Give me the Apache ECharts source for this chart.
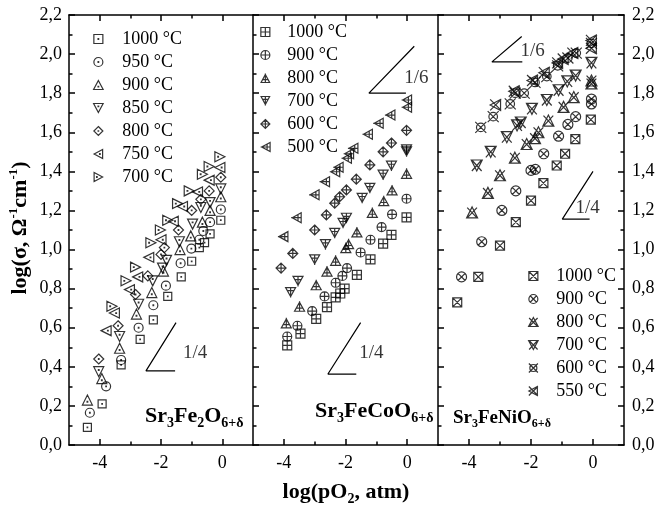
<!DOCTYPE html>
<html><head><meta charset="utf-8">
<script src="https://cdn.jsdelivr.net/npm/echarts@6/dist/echarts.min.js"></script>
<style>html,body{margin:0;padding:0;background:#fff}#c{width:669px;height:513px}</style>
</head><body><div id="c"></div>
<script>
// ---- Data: Sr3Fe2O6+δ (panel 1) ----
const fe2_1000 = [[-4.40,0.09],[-3.92,0.21],[-3.30,0.41],[-2.68,0.54],[-2.25,0.64],[-1.78,0.76],[-1.34,0.86],[-1.00,0.94],[-0.75,1.01],[-0.58,1.035],[-0.40,1.08],[-0.05,1.15]];
const fe2_950 = [[-4.32,0.165],[-3.79,0.30],[-3.30,0.435],[-2.73,0.60],[-2.25,0.715],[-1.84,0.815],[-1.36,0.93],[-1.01,1.005],[-0.75,1.05],[-0.62,1.095],[-0.40,1.14],[-0.05,1.205]];
const fe2_900 = [[-4.40,0.23],[-3.93,0.34],[-3.35,0.495],[-2.80,0.67],[-2.30,0.78],[-1.92,0.89],[-1.38,1.0],[-1.03,1.07],[-0.65,1.14],[-0.40,1.20],[-0.05,1.27]];
const fe2_850 = [[-4.03,0.375],[-3.35,0.555],[-2.73,0.72],[-2.27,0.84],[-1.95,0.905],[-1.82,0.945],[-1.40,1.04],[-0.97,1.13],[-0.70,1.215],[-0.40,1.24],[-0.05,1.31]];
const fe2_800 = [[-4.03,0.44],[-3.40,0.61],[-2.83,0.77],[-2.43,0.865],[-2.00,0.975],[-1.89,1.01],[-1.43,1.10],[-1.00,1.20],[-0.70,1.257],[-0.43,1.30],[-0.05,1.37]];
const fe2_750 = [[-3.79,0.585],[-3.52,0.675],[-3.03,0.795],[-2.76,0.86],[-2.40,0.96],[-2.00,1.05],[-1.60,1.145],[-1.30,1.22],[-0.81,1.295],[-0.43,1.355],[-0.08,1.42]];
const fe2_700 = [[-3.60,0.71],[-3.14,0.84],[-2.83,0.91],[-2.33,1.035],[-2.02,1.10],[-1.78,1.15],[-1.46,1.235],[-1.08,1.30],[-0.65,1.385],[-0.43,1.425],[-0.08,1.475]];
// ---- Data: Sr3FeCoO6+δ (panel 2) ----
const co_1000 = [[-3.89,0.51],[-3.46,0.57],[-2.95,0.645],[-2.60,0.705],[-2.32,0.755],[-2.17,0.775],[-2.03,0.80],[-1.63,0.87],[-1.19,0.95],[-0.78,1.03],[-0.51,1.075],[-0.02,1.165]];
const co_900 = [[-3.89,0.555],[-3.56,0.61],[-3.08,0.685],[-2.68,0.76],[-2.32,0.83],[-2.10,0.865],[-1.95,0.905],[-1.51,0.985],[-1.19,1.05],[-0.83,1.115],[-0.49,1.18],[-0.02,1.26]];
const co_800 = [[-3.92,0.625],[-3.49,0.71],[-2.95,0.82],[-2.60,0.89],[-2.32,0.945],[-1.99,1.01],[-1.90,1.03],[-1.63,1.09],[-1.13,1.19],[-0.76,1.25],[-0.49,1.305],[-0.02,1.39]];
const co_700 = [[-3.78,0.78],[-3.54,0.837],[-3.00,0.947],[-2.65,1.025],[-2.35,1.083],[-2.08,1.134],[-1.97,1.16],[-1.46,1.262],[-1.21,1.313],[-0.78,1.381],[-0.51,1.427],[-0.02,1.50],[-0.02,1.51]];
const co_600 = [[-4.09,0.905],[-3.71,0.98],[-3.00,1.10],[-2.62,1.177],[-2.35,1.237],[-2.19,1.27],[-1.97,1.305],[-1.65,1.36],[-1.21,1.433],[-0.78,1.50],[-0.51,1.545],[-0.02,1.61]];
const co_500 = [[-4.03,1.066],[-3.60,1.163],[-3.02,1.28],[-2.68,1.347],[-2.35,1.398],[-2.24,1.421],[-1.97,1.467],[-1.90,1.49],[-1.76,1.518],[-1.29,1.59],[-0.94,1.646],[-0.56,1.688],[-0.02,1.728],[-0.02,1.765]];
// ---- Data: Sr3FeNiO6+δ (panel 3) ----
const ni_1000 = [[-4.38,0.73],[-3.70,0.86],[-3.00,1.02],[-2.49,1.14],[-2.00,1.25],[-1.60,1.34],[-1.17,1.43],[-0.90,1.49],[-0.57,1.565],[-0.07,1.665]];
const ni_900 = [[-4.24,0.86],[-3.59,1.04],[-2.94,1.20],[-2.49,1.30],[-2.00,1.405],[-1.86,1.41],[-1.59,1.49],[-1.11,1.58],[-0.81,1.64],[-0.56,1.68],[-0.05,1.745],[-0.05,1.77]];
const ni_800 = [[-3.90,1.19],[-3.39,1.29],[-3.00,1.38],[-2.52,1.47],[-2.14,1.54],[-1.87,1.57],[-1.76,1.60],[-1.44,1.66],[-0.95,1.73],[-0.62,1.78],[-0.05,1.85],[-0.05,1.865]];
const ni_700 = [[-3.75,1.43],[-3.30,1.50],[-2.78,1.575],[-2.45,1.635],[-2.33,1.65],[-1.97,1.72],[-1.49,1.765],[-1.11,1.815],[-0.83,1.86],[-0.56,1.89],[-0.05,1.955]];
const ni_600 = [[-3.62,1.625],[-3.22,1.68],[-2.67,1.745],[-2.51,1.80],[-2.22,1.80],[-1.87,1.855],[-1.49,1.885],[-1.14,1.94],[-0.81,1.98],[-0.54,2.005],[-0.05,2.055]];
const ni_550 = [[-3.14,1.74],[-2.54,1.81],[-1.95,1.865],[-1.57,1.905],[-1.14,1.955],[-0.96,1.975],[-0.65,2.005],[-0.05,2.07],[-0.05,2.03]];
// ---- Axis ticks / labels ----
const xMajorTicks = [-4, -2, 0];
const xMinorTicks = [-3, -1];
const yTickInterval = 0.2;
// ---- Slope guides (annotation) ----
const guide1_q = [[-1.54,0.379],[-2.49,0.379],[-1.51,0.626]];
const guide2_q = [[-1.65,0.363],[-2.57,0.363],[-1.51,0.626]];
const guide2_s = [[-0.04,1.80],[-1.24,1.80],[0.23,2.04]];
const guide3_s = [[-2.28,1.96],[-3.26,1.96],[-2.30,2.09]];
const guide3_q = [[-0.11,1.156],[-0.99,1.156],[0.0,1.40]];
const guideLabels = [[0,-0.89,0.47,'1/4'],[1,-1.16,0.47,'1/4'],[1,0.30,1.88,'1/6'],[2,-1.95,2.015,'1/6'],[2,-0.17,1.215,'1/4']];

const F = 'Liberation Serif';
const dot = (x,y)=>'M'+(x-0.6)+' '+(y-0.6)+'L'+(x+0.6)+' '+(y-0.6)+'L'+(x+0.6)+' '+(y+0.6)+'L'+(x-0.6)+' '+(y+0.6)+'Z';
const SQ='M1 1L19 1L19 19L1 19Z', CI='M1 10A9 9 0 1 1 19 10A9 9 0 1 1 1 10Z',
 TU='M10 1L19 18L1 18Z', TD='M1 2L19 2L10 19Z', DI='M10 0L20 10L10 20L0 10Z',
 TL='M1 10L18 1L18 19Z', TR='M2 1L19 10L2 19Z';
const P = s => 'path://' + s;
const sym1 = {
 s1000: P(SQ+dot(10,10)), s950: P(CI+dot(10,10)), s900: P(TU+dot(10,12.5)), s850: P(TD+dot(10,7.5)),
 s800: P(DI+dot(10,10)), s750: P(TL+dot(12.5,10)), s700: P(TR+dot(7.5,10))
};
const sym2 = {
 s1000: P(SQ+'M10 1L10 19M1 10L19 10'), s900: P(CI+'M10 1L10 19M1 10L19 10'),
 s800: P(TU+'M10 -1L10 18M4 12L16 12'), s700: P(TD+'M10 2L10 21M4 8L16 8'),
 s600: P(DI+'M10 0L10 20M0 10L20 10'), s500: P(TL+'M-1 10L18 10M12 4L12 16')
};
const sym3 = {
 s1000: P(SQ+'M1 1L19 19M19 1L1 19'), s900: P('M3 10A7 7 0 1 1 17 10A7 7 0 1 1 3 10Z'+'M5 5L15 15M15 5L5 15'),
 s800: P(TU+'M2 2L18 18M18 2L2 18'), s700: P(TD+'M2 2L18 19M18 2L2 19'),
 s600: P('M3 10A7 7 0 1 1 17 10A7 7 0 1 1 3 10Z'+'M1 1L19 19M19 1L1 19'), s550: P(TL+'M1 1L19 19M19 1L1 19')
};

const panels = [
 [['fe2_1000','1000 °C',fe2_1000,sym1.s1000,8],['fe2_950','950 °C',fe2_950,sym1.s950,9],['fe2_900','900 °C',fe2_900,sym1.s900,10],
  ['fe2_850','850 °C',fe2_850,sym1.s850,10],['fe2_800','800 °C',fe2_800,sym1.s800,10],['fe2_750','750 °C',fe2_750,sym1.s750,10],['fe2_700','700 °C',fe2_700,sym1.s700,10]],
 [['co_1000','1000 °C',co_1000,sym2.s1000,9],['co_900','900 °C',co_900,sym2.s900,9],['co_800','800 °C',co_800,sym2.s800,10],
  ['co_700','700 °C',co_700,sym2.s700,10],['co_600','600 °C',co_600,sym2.s600,10],['co_500','500 °C',co_500,sym2.s500,10]],
 [['ni_1000','1000 °C',ni_1000,sym3.s1000,9],['ni_900','900 °C',ni_900,sym3.s900,10],['ni_800','800 °C',ni_800,sym3.s800,11],
  ['ni_700','700 °C',ni_700,sym3.s700,11],['ni_600','600 °C',ni_600,sym3.s600,11],['ni_550','550 °C',ni_550,sym3.s550,11]]
];
const guides = [[guide1_q],[guide2_q,guide2_s],[guide3_s,guide3_q]];

const grids = [{left:69,top:15,width:184,height:430},{left:253,top:15,width:185,height:430},{left:438,top:15,width:186,height:430}];
const lineS = {color:'#000', width:1.5};
const xAxes = [], yAxes = [];
grids.forEach((g,i)=>{
  const base = {gridIndex:i, type:'value', min:-5, max:1, splitLine:{show:false}};
  xAxes.push(Object.assign({}, base, {position:'bottom', axisLine:{show:true,onZero:false,lineStyle:lineS},
    axisTick:{show:true,inside:true,length:6,customValues:xMajorTicks,lineStyle:lineS},
    axisLabel:{show:true,customValues:xMajorTicks,fontFamily:F,fontSize:18,color:'#000',margin:9}}));
  xAxes.push(Object.assign({}, base, {position:'bottom', axisLine:{show:false,onZero:false},
    axisTick:{show:true,inside:true,length:3.5,customValues:xMinorTicks,lineStyle:lineS}, axisLabel:{show:false}}));
  xAxes.push(Object.assign({}, base, {position:'top', axisLine:{show:true,onZero:false,lineStyle:lineS},
    axisTick:{show:true,inside:true,length:6,customValues:xMajorTicks,lineStyle:lineS}, axisLabel:{show:false}}));
  xAxes.push(Object.assign({}, base, {position:'top', axisLine:{show:false,onZero:false},
    axisTick:{show:true,inside:true,length:3.5,customValues:xMinorTicks,lineStyle:lineS}, axisLabel:{show:false}}));
  yAxes.push({gridIndex:i, type:'value', min:0, max:2.2, interval:yTickInterval, position:'left',
    axisLine:{show:true,onZero:false,lineStyle:lineS}, axisTick:{show:true,inside:true,length:6,lineStyle:lineS},
    minorTick:{show:true,splitNumber:2,length:3.5,lineStyle:lineS}, splitLine:{show:false},
    axisLabel:{show:i===0,fontFamily:F,fontSize:18,color:'#000',margin:7,formatter:v=>v.toFixed(1).replace('.',',')}});
});
yAxes.push({gridIndex:2, type:'value', min:0, max:2.2, interval:yTickInterval, position:'right',
  axisLine:{show:true,onZero:false,lineStyle:lineS}, axisTick:{show:true,inside:true,length:6,lineStyle:lineS},
  minorTick:{show:true,splitNumber:2,length:3.5,lineStyle:lineS}, splitLine:{show:false},
  axisLabel:{show:true,fontFamily:F,fontSize:18,color:'#000',margin:8,formatter:v=>v.toFixed(1).replace('.',',')}});

const series = [];
const labelMap = {};
panels.forEach((sets,i)=>{
  sets.forEach(s=>{
    labelMap[s[0]] = s[1];
    series.push({type:'scatter', name:s[0], xAxisIndex:i*4, yAxisIndex:i, data:s[2], symbol:s[3], symbolSize:s[4],
      itemStyle:{color:'rgba(0,0,0,0)', borderColor:'#000', borderWidth:1.2}, silent:true, emphasis:{disabled:true}});
  });
  guides[i].forEach(gd=>{
    series.push({type:'line', xAxisIndex:i*4, yAxisIndex:i, data:gd, symbol:'none', silent:true,
      lineStyle:{color:'#000', width:1.2}, emphasis:{disabled:true}});
  });
});
guideLabels.forEach(gl=>{
  series.push({type:'scatter', xAxisIndex:gl[0]*4, yAxisIndex:gl[0], data:[[gl[1],gl[2]]], symbolSize:0, silent:true,
    label:{show:true, position:'inside', formatter:gl[3], fontFamily:F, fontSize:19, color:'#000'}});
});

const legendBase = {orient:'vertical', itemHeight:9, itemGap:5, padding:0, selectedMode:false,
  itemStyle:{borderWidth:1.2, borderColor:'#000', color:'rgba(0,0,0,0)'},
  formatter:n=>labelMap[n], textStyle:{fontFamily:F, fontSize:18, color:'#000'}};
const legends = [
  Object.assign({}, legendBase, {left:93, top:30, itemWidth:38, data:panels[0].map(s=>s[0])}),
  Object.assign({}, legendBase, {left:260, top:23, itemWidth:34, data:panels[1].map(s=>s[0])}),
  Object.assign({}, legendBase, {left:528, top:267, itemWidth:36, data:panels[2].map(s=>s[0])})
];

const mainR = (fs)=>({fontSize:fs, fontWeight:'bold', fontFamily:F, fill:'#000'});
const subR = (fs,pad)=>({fontSize:fs, fontWeight:'bold', fontFamily:F, fill:'#000', padding:[pad,0,0,0]});
const supR = (fs,pad)=>({fontSize:fs, fontWeight:'bold', fontFamily:F, fill:'#000', padding:[0,0,pad,0]});
const graphic = [
  {type:'text', x:145, y:416, style:{text:'{m|Sr}{s|3}{m|Fe}{s|2}{m|O}{s|6+δ}', verticalAlign:'middle', rich:{m:mainR(22), s:subR(14,14)}}},
  {type:'text', x:315, y:411, style:{text:'{m|Sr}{s|3}{m|FeCoO}{s|6+δ}', verticalAlign:'middle', rich:{m:mainR(22), s:subR(14,14)}}},
  {type:'text', x:453, y:418, style:{text:'{m|Sr}{s|3}{m|FeNiO}{s|6+δ}', verticalAlign:'middle', rich:{m:mainR(19), s:subR(12,12)}}},
  {type:'text', x:346, y:492, style:{text:'{m|log(pO}{s|2}{m|, atm)}', align:'center', verticalAlign:'middle', rich:{m:mainR(22), s:subR(14,14)}}},
  {type:'text', x:20, y:228, rotation:Math.PI/2, style:{text:'{m|log(σ, Ω}{u|-1}{m|cm}{u|-1}{m|)}', align:'center', verticalAlign:'middle', rich:{m:mainR(22), u:supR(13,12)}}}
];

const chart = echarts.init(document.getElementById('c'), null, {renderer:'canvas'});
chart.setOption({animation:false, backgroundColor:'#fff', grid:grids, xAxis:xAxes, yAxis:yAxes, series, legend:legends, graphic});
</script></body></html>
